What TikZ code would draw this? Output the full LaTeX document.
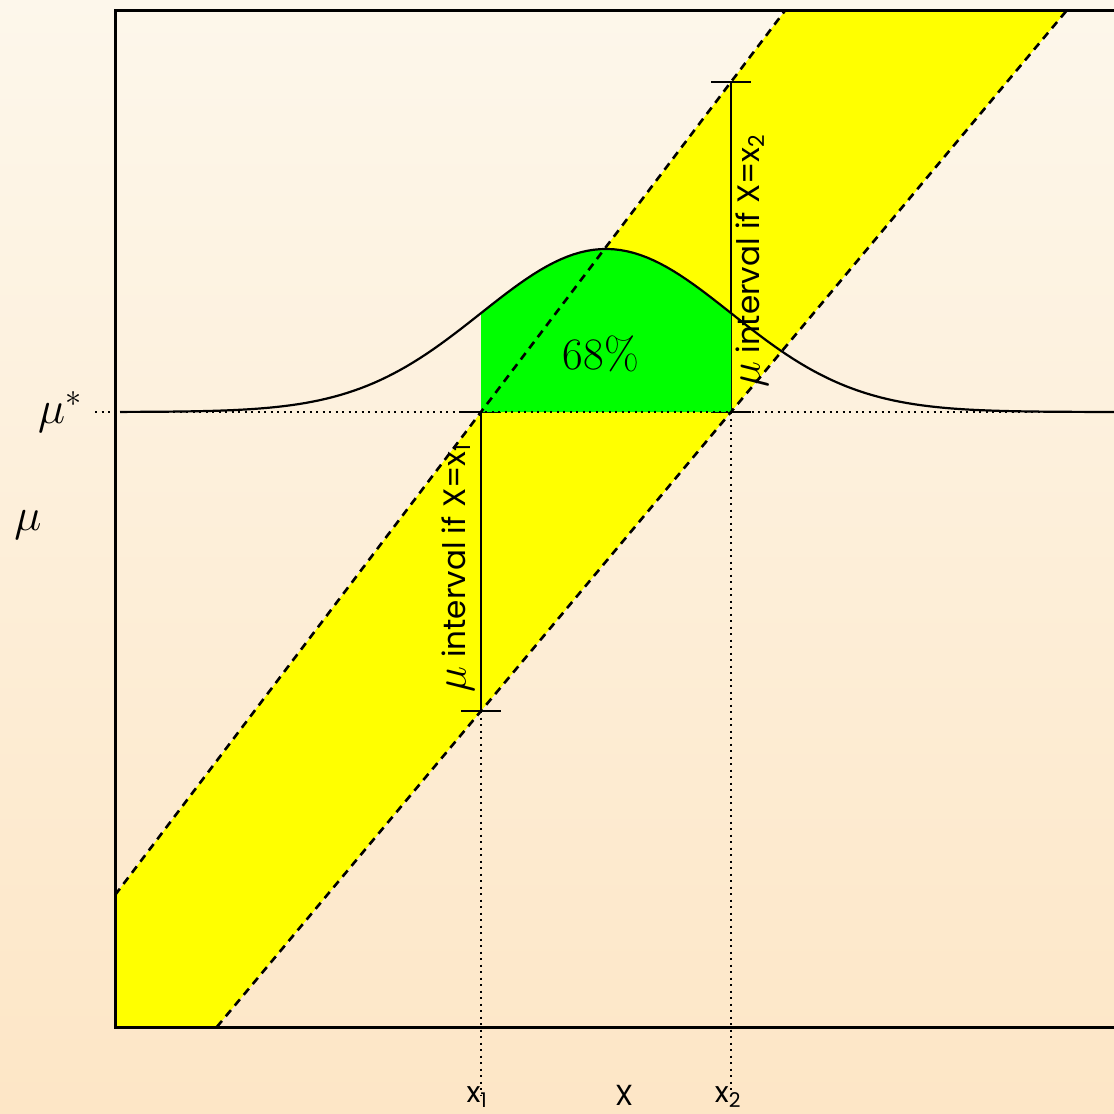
\RequirePackage{fix-cm}
\documentclass[tikz,border=0pt]{standalone}
\usepackage{fontspec}
\newfontfamily\gothic{Poppins}
\usetikzlibrary{positioning,calc}
\definecolor{bgtop}{RGB}{253,247,235}
\definecolor{bgbot}{RGB}{253,230,198}
\definecolor{band}{RGB}{255,255,0}
\definecolor{core}{RGB}{0,255,0}
\newcommand{\bigmu}{{\fontsize{44}{44}\selectfont$\mu$}}

\begin{document}
\begin{tikzpicture}[
    x=1pt, y=-1pt,
    frame/.style={line width=3pt},
    limit/.style={line width=2.6pt, dash pattern=on 8pt off 6pt},
    guide/.style={line width=2pt, dash pattern=on 2pt off 4.5pt},
    bar/.style={line width=2.4pt},
    lbl/.style={font=\gothic\fontsize{29}{35}\selectfont, inner sep=0pt},
    tag/.style={font=\gothic\fontsize{31}{37}\selectfont, inner sep=0pt, rotate=90},
    sym/.style={font=\fontsize{46}{52}\selectfont, inner sep=0pt}
]
\useasboundingbox (0,0) rectangle (1114,1114);
\shade[top color=bgtop, bottom color=bgbot] (0,0) rectangle (1114,1114);
\clip (0,0) rectangle (1114,1114);

% ends of the two mu intervals
\coordinate (lo1) at (481,711);
\coordinate (hi1) at (481,412);
\coordinate (lo2) at (731,412);
\coordinate (hi2) at (731,82);

% confidence belt
\fill[band] (115,895.1) -- (785.5,10) -- (1067.1,10) -- (216.8,1027) -- (115,1027) -- cycle;

\draw[bar] (lo1) -- (hi1);
\draw[bar] (lo2) -- (hi2);
\foreach \p in {lo1,hi1,lo2,hi2}
    \draw[bar] ([xshift=-20pt]\p) -- ([xshift=20pt]\p);

% central 68% of the pdf
\fill[core] (hi1) -- plot[domain=481:731, samples=60] (\x, {412-163*exp(-0.5*((\x-606)/125)^2)}) -- (lo2) -- cycle;
\draw[bar] (lo1) -- (hi1);

\draw[limit] (115,895.1) -- (785.5,10);
\draw[limit] (216.8,1027) -- (1067.1,10);

\draw[guide] (95,412) -- (1114,412);
\draw[guide] (lo1) -- (481,1095);
\draw[guide] (lo2) -- (731,1095);

\draw[line width=2.2pt] plot[domain=120:1114, samples=150] (\x, {412-163*exp(-0.5*((\x-606)/125)^2)});

\draw[frame] (1130,1027) -- (115,1027) -- (115,10) -- (1130,10);

\node[font=\fontsize{45}{54}\selectfont] (frac) at (601,354) {68\%};
\node[tag] (int1) at (458,568) {\bigmu\ interval if X=x\textsubscript{1}};
\node[tag] (int2) at (752,261) {\bigmu\ interval if X=x\textsubscript{2}};

\node[sym] (mustar) at (60,412) {$\mu^{*}$};
\node[sym] (mu) at (28,525) {$\mu$};
\node[lbl] (x1) at (477,1097) {x\textsubscript{1}};
\node[lbl] (x2) at (728,1097) {x\textsubscript{2}};
\node[lbl] (xaxis) at (624,1095) {X};
\end{tikzpicture}
\end{document}
